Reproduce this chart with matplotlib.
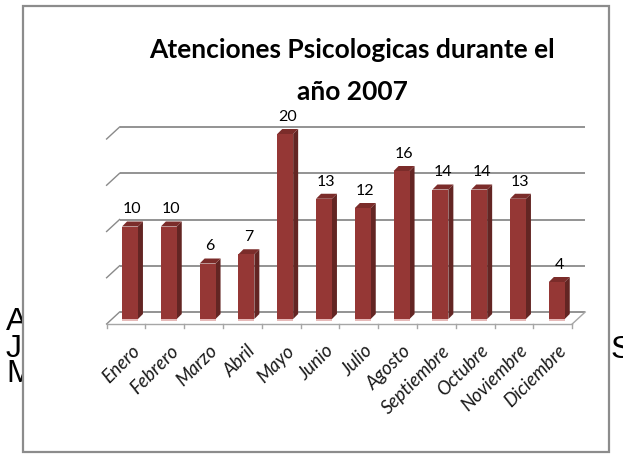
import numpy as np
import matplotlib
matplotlib.use('Agg')
from matplotlib import pyplot as plt
from matplotlib.patches import Polygon, Rectangle

# data
meses = ['Enero', 'Febrero', 'Marzo', 'Abril', 'Mayo', 'Junio', 'Julio',
         'Agosto', 'Septiembre', 'Octubre', 'Noviembre', 'Diciembre']
atenciones = [10, 10, 6, 7, 20, 13, 12, 16, 14, 14, 13, 4]
grid_vals = [0, 5, 10, 15, 20]

W, H = 623, 455
front_col = '#953735'
side_col = '#632523'
top_col = '#7b2c2a'
grid_col = '#8a8a8a'


def main():
	fig = plt.figure(figsize=(W / 100., H / 100.), dpi=100)
	fig.patch.set_facecolor('white')

	# background: slide text peeking out behind the chart box
	bg = fig.add_axes([0, 0, 1, 1])
	bg.set_xlim(0, W)
	bg.set_ylim(H, 0)
	bg.axis('off')
	for letter, yc in zip(['A', 'J', 'M'], [322, 349, 374]):
		bg.text(6, yc, letter, fontsize=23, family='Liberation Sans',
				ha='left', va='center', color='black', zorder=1)
	bg.text(611, 350, 'S', fontsize=23, family='Liberation Sans',
			ha='left', va='center', color='black', zorder=1)
	bg.add_patch(Rectangle((23, 6), 586, 446, facecolor='white',
						   edgecolor='#8c8c8c', lw=1.6, zorder=2))

	# title
	fig.text(352 / W, 1 - 58. / H, 'Atenciones Psicologicas durante el',
			 family='Lato', weight='bold', fontsize=19, ha='center', va='baseline')
	fig.text(352 / W, 1 - 100. / H, 'año 2007',
			 family='Lato', weight='bold', fontsize=19, ha='center', va='baseline')

	# main plot area (bar plane)
	px_cat = 38.8
	px_unit = 9.25
	left_px = 130 - px_cat / 2
	ax = fig.add_axes([left_px / W, (H - 319.) / H, 12 * px_cat / W, 20 * px_unit / H])
	ax.set_xlim(-0.5, 11.5)
	ax.set_ylim(0, 20)
	ax.axis('off')
	ax.patch.set_alpha(0)

	# 3d offsets in data units
	bdx, bdy = 9. / px_cat, 7. / px_unit      # back wall
	fdx, fdy = -4. / px_cat, -5. / px_unit    # front edge
	ddx, ddy = 5. / px_cat, 5. / px_unit      # bar depth

	x_lo, x_hi = -0.5, 11.5
	for v in grid_vals:
		ax.plot([x_lo + bdx, x_hi + bdx], [v + bdy, v + bdy], color=grid_col,
				lw=1.3, clip_on=False, zorder=1, solid_capstyle='butt')
		ax.plot([x_lo + fdx, x_lo + bdx], [v + fdy, v + bdy], color=grid_col,
				lw=1.0, clip_on=False, zorder=1)
	# floor
	ax.plot([x_lo + fdx, x_hi + fdx], [fdy, fdy], color='#a6a6a6', lw=1.0,
			clip_on=False, zorder=2)
	ax.plot([x_hi + fdx, x_hi + bdx], [fdy, bdy], color='#a6a6a6', lw=1.0,
			clip_on=False, zorder=2)
	for k in range(13):
		xt = x_lo + fdx + k
		ax.plot([xt, xt], [fdy, fdy - 4. / px_unit], color='#a6a6a6', lw=1.0,
				clip_on=False, zorder=2)

	# bars
	x = np.arange(len(meses))
	w = 0.41
	ax.bar(x, [-0.25] * len(x), bottom=0, width=w, color='#e6b9b8', zorder=2,
		   clip_on=False)
	ax.bar(x, atenciones, width=w, color=front_col, zorder=4, clip_on=False)
	for xi, v in zip(x, atenciones):
		side = Polygon([(xi + w / 2, 0), (xi + w / 2 + ddx, ddy),
						(xi + w / 2 + ddx, v + ddy), (xi + w / 2, v)],
					   closed=True, facecolor=side_col, edgecolor='none',
					   zorder=3, clip_on=False)
		top = Polygon([(xi - w / 2, v), (xi - w / 2 + ddx, v + ddy),
					   (xi + w / 2 + ddx, v + ddy), (xi + w / 2, v)],
					  closed=True, facecolor=top_col, edgecolor='none',
					  zorder=3, clip_on=False)
		ax.add_patch(side)
		ax.add_patch(top)
		ax.text(xi + 0.06, v + ddy + 0.55, str(v), family='Lato', fontsize=11.5,
				ha='center', va='bottom', color='black', clip_on=False)

	# category labels
	for xi, m in zip(x, meses):
		ax.text(xi + 0.02, -2.5, m, family='Lato', style='italic', fontsize=13.5,
				rotation=45, rotation_mode='anchor', ha='right', va='top',
				color='#1a1a1a', clip_on=False)

	fig.savefig('out.png', dpi=100)


if __name__ == '__main__':
	main()
